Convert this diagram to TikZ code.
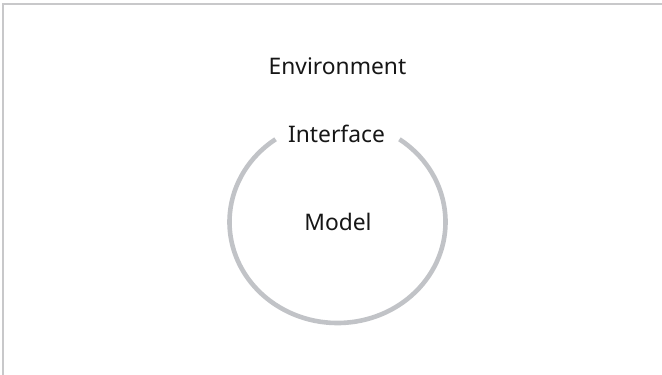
\documentclass[tikz,border=0pt]{standalone}
\usepackage{fontspec}
\setmainfont{Noto Sans}
\definecolor{ringgray}{RGB}{193,195,199}
\definecolor{framegray}{RGB}{200,200,202}
\definecolor{textdark}{RGB}{22,22,22}
\begin{document}
\begin{tikzpicture}[x=1pt,y=-1pt,
  lbl/.style={font=\fontsize{22.8}{26}\selectfont, text=textdark, inner sep=0pt, anchor=base},
  ring/.style={draw=ringgray, line width=4.6pt}]
\useasboundingbox (0,0) rectangle (662,375);
\draw[framegray, line width=1.3pt] (3,375) -- (3,4) -- (662,4);
\node[lbl] (env) at (337.5,74) {Environment};
\node[lbl] (iface) at (336.5,142.3) {Interface};
\node[lbl] (model) at (338,230) {Model};
\coordinate (c) at (337.5,222);
\draw[ring] (c) ++(55:108 and -101) arc[start angle=55, end angle=-235, x radius=108, y radius=-101];
\end{tikzpicture}
\end{document}
